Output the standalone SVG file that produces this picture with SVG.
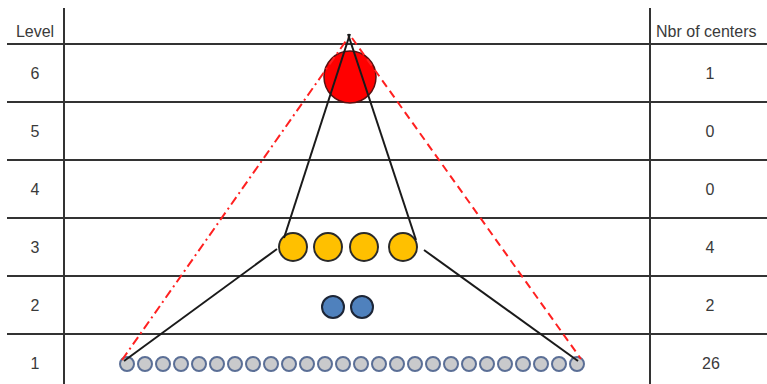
<svg xmlns="http://www.w3.org/2000/svg" width="767" height="384" viewBox="0 0 767 384">
<style>
.grid{stroke:#333;stroke-width:2;fill:none}
.t{font-family:"Liberation Sans",Arial,sans-serif;font-size:16px;fill:#3a3a3a}
.c{text-anchor:middle}
.red{fill:#ff0000;stroke:#5a1010;stroke-width:1.5}
.yel{fill:#ffc000;stroke:#2a2a2a;stroke-width:2}
.blu{fill:#4f81bd;stroke:#1c2536;stroke-width:2}
.sm{fill:#c9cacc;stroke:#5b6f96;stroke-width:2}
.ln{stroke:#1a1a1a;stroke-width:2;fill:none}
.rd1{stroke:#ff2020;stroke-width:2;fill:none;stroke-dasharray:9 4 2 4}
.rd2{stroke:#ff2020;stroke-width:2;fill:none;stroke-dasharray:8 5}
</style>
<rect width="767" height="384" fill="#ffffff"/>
<g id="table">
<line class="grid" x1="7" y1="44" x2="767" y2="44"/>
<line class="grid" x1="7" y1="102" x2="767" y2="102"/>
<line class="grid" x1="7" y1="160" x2="767" y2="160"/>
<line class="grid" x1="7" y1="218" x2="767" y2="218"/>
<line class="grid" x1="7" y1="276" x2="767" y2="276"/>
<line class="grid" x1="7" y1="334" x2="767" y2="334"/>
<line class="grid" x1="64" y1="8" x2="64" y2="384"/>
<line class="grid" x1="650" y1="8" x2="650" y2="384"/>
<text class="t c" x="35" y="37">Level</text>
<text class="t" x="656" y="37">Nbr of centers</text>
<text class="t c" x="35" y="79">6</text>
<text class="t c" x="35" y="137">5</text>
<text class="t c" x="35" y="195">4</text>
<text class="t c" x="35" y="253">3</text>
<text class="t c" x="35" y="311">2</text>
<text class="t c" x="35" y="369">1</text>
<text class="t c" x="710" y="79">1</text>
<text class="t c" x="710" y="137">0</text>
<text class="t c" x="710" y="195">0</text>
<text class="t c" x="710" y="253">4</text>
<text class="t c" x="710" y="311">2</text>
<text class="t c" x="711" y="369">26</text>
</g>
<g id="level6">
<circle class="red" cx="350" cy="77" r="26"/>
</g>
<g id="level3">
<circle class="yel" cx="293" cy="247" r="14"/>
<circle class="yel" cx="328" cy="247" r="14"/>
<circle class="yel" cx="364" cy="247" r="14"/>
<circle class="yel" cx="403" cy="247" r="14"/>
</g>
<g id="level2">
<circle class="blu" cx="333" cy="307" r="11"/>
<circle class="blu" cx="362" cy="307" r="11"/>
</g>
<g id="level1">
<circle class="sm" cx="127" cy="364" r="7"/>
<circle class="sm" cx="145" cy="364" r="7"/>
<circle class="sm" cx="163" cy="364" r="7"/>
<circle class="sm" cx="181" cy="364" r="7"/>
<circle class="sm" cx="199" cy="364" r="7"/>
<circle class="sm" cx="217" cy="364" r="7"/>
<circle class="sm" cx="235" cy="364" r="7"/>
<circle class="sm" cx="253" cy="364" r="7"/>
<circle class="sm" cx="271" cy="364" r="7"/>
<circle class="sm" cx="289" cy="364" r="7"/>
<circle class="sm" cx="307" cy="364" r="7"/>
<circle class="sm" cx="325" cy="364" r="7"/>
<circle class="sm" cx="343" cy="364" r="7"/>
<circle class="sm" cx="361" cy="364" r="7"/>
<circle class="sm" cx="379" cy="364" r="7"/>
<circle class="sm" cx="397" cy="364" r="7"/>
<circle class="sm" cx="415" cy="364" r="7"/>
<circle class="sm" cx="433" cy="364" r="7"/>
<circle class="sm" cx="451" cy="364" r="7"/>
<circle class="sm" cx="469" cy="364" r="7"/>
<circle class="sm" cx="487" cy="364" r="7"/>
<circle class="sm" cx="505" cy="364" r="7"/>
<circle class="sm" cx="523" cy="364" r="7"/>
<circle class="sm" cx="541" cy="364" r="7"/>
<circle class="sm" cx="559" cy="364" r="7"/>
<circle class="sm" cx="577" cy="364" r="7"/>
</g>
<g id="connectors">
<line class="rd1" x1="122" y1="360" x2="348" y2="38"/>
<line class="rd2" x1="352" y1="38" x2="581" y2="359"/>
<line class="ln" x1="350" y1="34" x2="284" y2="238"/>
<line class="ln" x1="348" y1="34" x2="416" y2="240"/>
<line class="ln" x1="277" y1="249" x2="124" y2="361"/>
<line class="ln" x1="424" y1="250" x2="578" y2="361"/>
</g>
</svg>
